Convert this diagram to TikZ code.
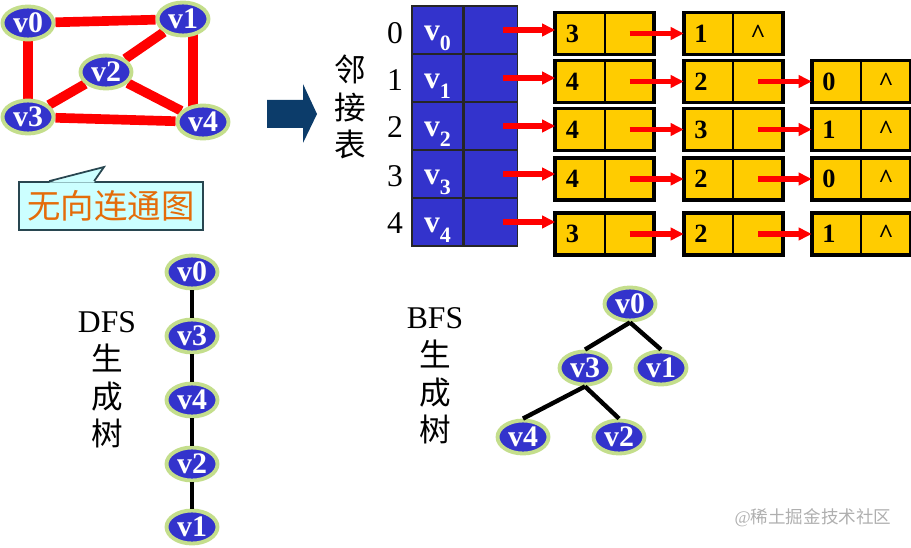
\documentclass[tikz,border=0pt]{standalone}
\usepackage{fontspec}
\setmainfont{Liberation Serif}
\newfontfamily\cjk{Noto Sans CJK SC}
\usetikzlibrary{arrows.meta}
\usetikzlibrary{positioning, shapes.geometric, calc, backgrounds}

\definecolor{vtxblue}{RGB}{51,51,204}
\definecolor{vtxrim}{RGB}{196,222,140}
\definecolor{boxgold}{RGB}{255,204,0}
\definecolor{notefill}{RGB}{204,255,255}
\definecolor{noteline}{RGB}{40,70,80}
\definecolor{noteorange}{RGB}{228,108,10}
\definecolor{bignavy}{RGB}{12,60,106}
\definecolor{markgray}{RGB}{175,175,175}

% v with a lowered index, as in the head table
\newcommand{\vsub}[1]{v\raisebox{-0.3em}{\fontsize{12.5}{12.5}\selectfont #1}}
% one list node: name, x, y, vertex number, pointer field
\newcommand{\listnode}[5]{%
  \node[cella] (#1a) at (#2,#3) {#4};
  \node[cellb,right=0pt of #1a] (#1b) {#5};
  \draw[boxline] (#1a.north west) rectangle (#1b.south east);
}

\tikzset{
  vtx/.style={ellipse, fill=vtxblue, draw=vtxrim, line width=2.2pt, text=white,
    inner sep=0pt, minimum width=1.02cm, minimum height=0.66cm,
    font=\bfseries\fontsize{17}{17}\selectfont},
  redge/.style={red, line width=5.5pt},
  tedge/.style={black, line width=2.5pt},
  heada/.style={rectangle, fill=vtxblue, draw=black!85, line width=0.6pt,
    minimum width=1.02cm, minimum height=0.96cm, inner sep=0pt, text=white,
    text height=15pt, text depth=3pt,
    font=\bfseries\fontsize{18}{18}\selectfont},
  headb/.style={heada, minimum width=1.06cm},
  cella/.style={rectangle, fill=boxgold, draw=black, line width=0.6pt,
    minimum width=0.97cm, minimum height=0.82cm, text width=0.57cm,
    inner xsep=0.2cm, inner ysep=0pt, align=left,
    font=\bfseries\fontsize{15}{15}\selectfont},
  cellb/.style={rectangle, fill=boxgold, draw=black, line width=0.6pt,
    minimum width=0.97cm, minimum height=0.82cm, inner sep=0pt,
    font=\bfseries\fontsize{15}{15}\selectfont},
  boxline/.style={draw=black, line width=2.2pt},
  link/.style={red, line width=3pt, -{Triangle[length=7.5pt,width=7pt]}},
  idx/.style={font=\fontsize{18}{18}\selectfont},
  side/.style={align=center, font=\fontsize{18}{21.5}\selectfont},
  note/.style={rectangle, fill=notefill, draw=noteline, line width=1pt,
    minimum width=3.68cm, minimum height=0.96cm, text=noteorange,
    font=\fontsize{19}{19}\selectfont},
}

\begin{document}
\begin{tikzpicture}[x=0.02cm,y=-0.02cm]
  \useasboundingbox (0,0) rectangle (911,547);

  % Undirected graph
  \node[vtx] (v0) at (28,23)   {v0};
  \node[vtx] (v1) at (183,19)  {v1};
  \node[vtx] (v2) at (106,72)  {v2};
  \node[vtx] (v3) at (28,117)  {v3};
  \node[vtx] (v4) at (203,122) {v4};
  \begin{scope}[on background layer]
    \draw[redge] (v0) -- (v1);
    \draw[redge] (v0) -- (v3);
    \draw[redge] (v1) -- (v2);
    \draw[redge] ($(v1.center)+(10,0)$) -- ($(v4.center)+(-10,0)$);
    \draw[redge] (v2) -- (v3);
    \draw[redge] (v2) -- (v4);
    \draw[redge] (v3) -- (v4);
  \end{scope}

  % Callout under the graph
  \node[note] (note) at (111,206) {\cjk 无向连通图};
  \coordinate (tip) at (104,167);
  \fill[notefill] ($(note.north west)+(31,1.5)$) -- (tip) -- ($(note.north west)+(76,1.5)$) -- cycle;
  \draw[noteline, line width=1pt] ($(note.north west)+(31,0)$) -- (tip) -- ($(note.north west)+(76,0)$);

  % Block arrow
  \fill[bignavy] (267,100) -- (303,100) -- (303,84) -- (317,114) -- (303,143) -- (303,128) -- (267,128) -- cycle;

  \node[side] (adj) at (350,107) {\cjk 邻\\\cjk 接\\\cjk 表};

  % Head table
  \node[idx] (i0) at (395,33)  {0};
  \node[idx] (i1) at (395,80)  {1};
  \node[idx] (i2) at (395,127) {2};
  \node[idx] (i3) at (395,176) {3};
  \node[idx] (i4) at (395,223) {4};

  \node[heada] (h0a) at (437.5,30)  {\vsub{0}};
  \node[heada] (h1a) at (437.5,78)  {\vsub{1}};
  \node[heada] (h2a) at (437.5,126) {\vsub{2}};
  \node[heada] (h3a) at (437.5,174) {\vsub{3}};
  \node[heada] (h4a) at (437.5,222) {\vsub{4}};
  \node[headb,right=0pt of h0a] (h0b) {};
  \node[headb,right=0pt of h1a] (h1b) {};
  \node[headb,right=0pt of h2a] (h2b) {};
  \node[headb,right=0pt of h3a] (h3b) {};
  \node[headb,right=0pt of h4a] (h4b) {};

  % Edge lists
  \listnode{l01}{580}{33.5}{3}{}
  \listnode{l02}{708.5}{33.5}{1}{\^{}}
  \listnode{l11}{580}{81.5}{4}{}
  \listnode{l12}{708.5}{81.5}{2}{}
  \listnode{l13}{836.5}{81.5}{0}{\^{}}
  \listnode{l21}{580}{129.5}{4}{}
  \listnode{l22}{708.5}{129.5}{3}{}
  \listnode{l23}{836.5}{129.5}{1}{\^{}}
  \listnode{l31}{580}{179}{4}{}
  \listnode{l32}{708.5}{179}{2}{}
  \listnode{l33}{836.5}{179}{0}{\^{}}
  \listnode{l41}{580}{234}{3}{}
  \listnode{l42}{708.5}{234}{2}{}
  \listnode{l43}{836.5}{234}{1}{\^{}}

  \draw[link] ([xshift=0.25cm]h0b.center) -- (h0b.center -| l01a.west);
  \draw[link] ([xshift=0.25cm]h1b.center) -- (h1b.center -| l11a.west);
  \draw[link] ([xshift=0.25cm]h2b.center) -- (h2b.center -| l21a.west);
  \draw[link] ([xshift=0.25cm]h3b.center) -- (h3b.center -| l31a.west);
  \draw[link] ([xshift=0.25cm]h4b.center) -- (h4b.center -| l41a.west);
  \draw[link] (l01b.center) -- (l02a.west);
  \draw[link] (l11b.center) -- (l12a.west);
  \draw[link] (l12b.center) -- (l13a.west);
  \draw[link] (l21b.center) -- (l22a.west);
  \draw[link] (l22b.center) -- (l23a.west);
  \draw[link] (l31b.center) -- (l32a.west);
  \draw[link] (l32b.center) -- (l33a.west);
  \draw[link] (l41b.center) -- (l42a.west);
  \draw[link] (l42b.center) -- (l43a.west);

  % DFS spanning tree
  \node[side] (dfs) at (107,380) {DFS\\\cjk 生\\\cjk 成\\\cjk 树};
  \node[vtx] (d0) at (192,272) {v0};
  \node[vtx] (d3) at (192,336) {v3};
  \node[vtx] (d4) at (192,400) {v4};
  \node[vtx] (d2) at (192,464) {v2};
  \node[vtx] (d1) at (192,527) {v1};
  \draw[tedge] (d0) -- (d3);
  \draw[tedge] (d3) -- (d4);
  \draw[tedge] (d4) -- (d2);
  \draw[tedge] (d2) -- (d1);

  % BFS spanning tree
  \node[side] (bfs) at (435,376) {BFS\\\cjk 生\\\cjk 成\\\cjk 树};
  \node[vtx] (b0) at (630,304) {v0};
  \node[vtx] (b3) at (585,368) {v3};
  \node[vtx] (b1) at (661,368) {v1};
  \node[vtx] (b4) at (523,437) {v4};
  \node[vtx] (b2) at (619,437) {v2};
  \draw[tedge] (b0.south) -- (b3.north);
  \draw[tedge] (b0.south) -- (b1.north);
  \draw[tedge] (b3.south) -- (b4.north);
  \draw[tedge] (b3.south) -- (b2.north);

  \node[text=markgray, font=\fontsize{10}{10}\selectfont] (mark) at (813,518) {@\cjk 稀土掘金技术社区};
\end{tikzpicture}
\end{document}
